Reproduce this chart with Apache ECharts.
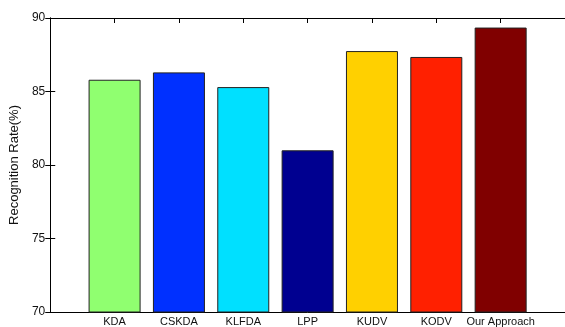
<!DOCTYPE html>
<html><head><meta charset="utf-8">
<script src="https://cdn.jsdelivr.net/npm/echarts@6/dist/echarts.min.js"></script>
<style>html,body{margin:0;padding:0;background:#fff}#c{width:565px;height:327px}</style>
</head><body><div id="c"></div>
<script>
const categories = ['KDA','CSKDA','KLFDA','LPP','KUDV','KODV','Our Approach'];
const values = [85.8, 86.3, 85.3, 81.0, 87.75, 87.35, 89.35];
const colors = ['#90FF70','#0030FF','#00E0FF','#000090','#FFD000','#FF2000','#800000'];
const yTicks = [70,75,80,85,90];

const font = '"Liberation Sans Narrow","Liberation Sans",Arial,sans-serif';
const chart = echarts.init(document.getElementById('c'), null, {renderer:'canvas'});
const xBase = {
  type:'value', min:0, max:categories.length+1, interval:1,
  axisLine:{show:true, lineStyle:{color:'#000', width:1}},
  axisTick:{show:true, inside:true, length:5, lineStyle:{color:'#000'}},
  splitLine:{show:false}
};
chart.setOption({
  animation:false,
  grid:{left:45, top:18, width:522, bottom:14, containLabel:false},
  xAxis:[
    Object.assign({}, xBase, {position:'bottom',
      axisLabel:{show:true, margin:4, fontSize:11, fontFamily:font, color:'#111',
        formatter:v => categories[v-1] || '' , showMinLabel:false, showMaxLabel:false}}),
    Object.assign({}, xBase, {position:'top', axisLabel:{show:false}})
  ],
  yAxis:[
    {type:'value', min:yTicks[0], max:yTicks[yTicks.length-1], interval:5, position:'left',
     axisLine:{show:true, lineStyle:{color:'#000'}},
     axisTick:{show:true, inside:true, length:5, lineStyle:{color:'#000'}},
     splitLine:{show:false},
     axisLabel:{margin:5, fontSize:12, fontFamily:font, color:'#111'},
     name:'Recognition Rate(%)', nameLocation:'middle', nameGap:27, nameRotate:90,
     nameTextStyle:{fontSize:13, fontFamily:'"Liberation Sans",Arial,sans-serif', color:'#111'}},
    {type:'value', min:yTicks[0], max:yTicks[yTicks.length-1], interval:5, position:'right',
     axisLine:{show:true, lineStyle:{color:'#000'}},
     axisTick:{show:true, inside:true, length:5, lineStyle:{color:'#000'}},
     splitLine:{show:false}, axisLabel:{show:false}}
  ],
  series:[{
    type:'bar', xAxisIndex:0, yAxisIndex:0, barWidth:52,
    data: values.map((v,i)=>({value:[i+1, v], itemStyle:{color:colors[i]}})),
    itemStyle:{borderColor:'#222', borderWidth:1}
  }]
});
</script></body></html>
